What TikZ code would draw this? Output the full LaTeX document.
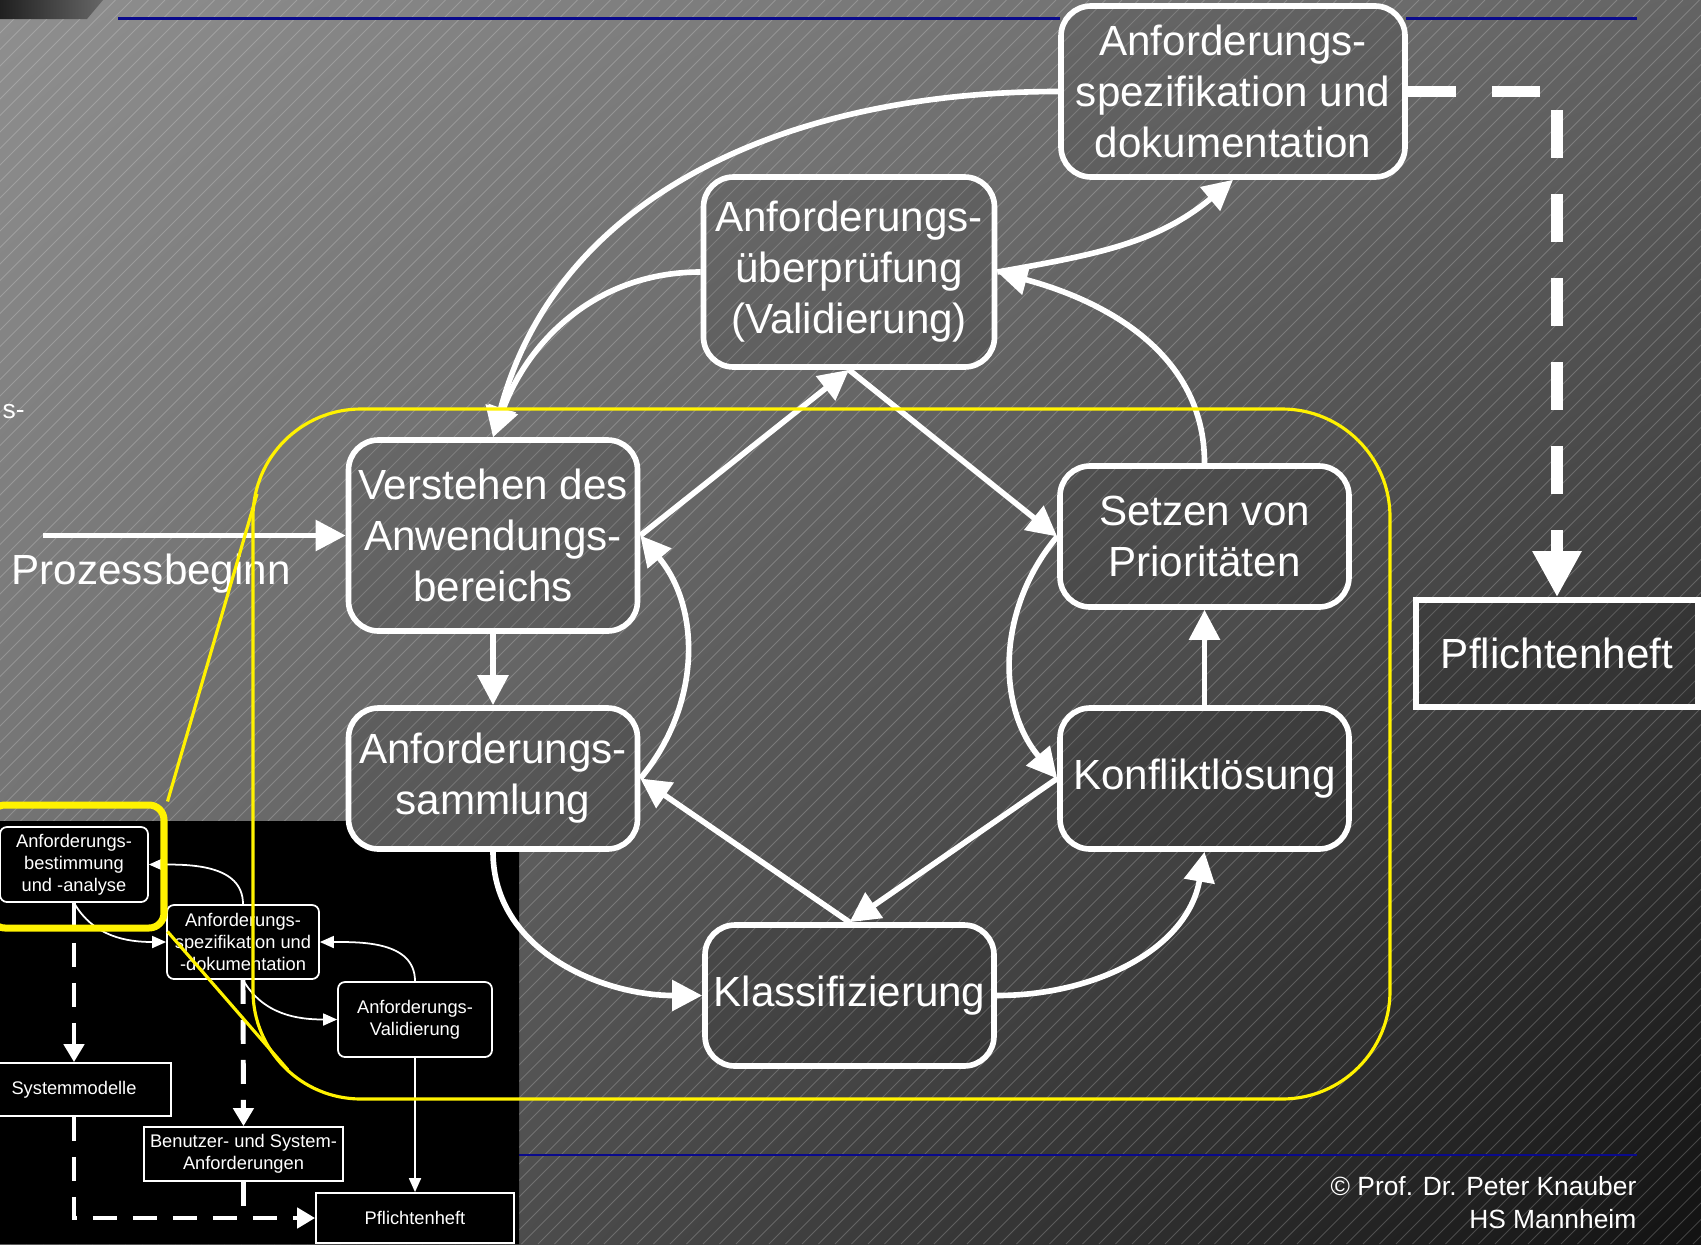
\documentclass[tikz,border=0pt]{standalone}
\usepackage{fontspec}
\setmainfont{Liberation Sans}
\usetikzlibrary{arrows.meta,shadings}

\definecolor{bgul}{gray}{0.56}
\definecolor{bgur}{gray}{0.39}
\definecolor{bgll}{gray}{0.40}
\definecolor{bglr}{gray}{0.07}
\definecolor{slideblue}{RGB}{10,10,140}

\tikzset{
  box/.style={draw=white, line width=1.6pt, rounded corners=0.3cm, fill=black, fill opacity=0.1, text opacity=1,
    text=white, align=center, inner sep=0pt, minimum width=2.89cm, minimum height=1.41cm,
    font=\fontsize{12}{14.5}\selectfont},
  arr/.style={draw=white, line width=1.6pt, -{Triangle[length=0.3cm,width=0.3cm]}},
  bigdash/.style={draw=white, line width=3.4pt, dash pattern=on 0.48cm off 0.36cm, -{Triangle[length=0.46cm,width=0.46cm]}},
  ibox/.style={draw=white, line width=0.5pt, rounded corners=0.07cm, text=white, align=center, inner sep=0pt,
    font=\fontsize{5.2}{6.2}\selectfont},
  iarr/.style={draw=white, line width=0.5pt, -{Triangle[length=0.14cm,width=0.12cm]}},
  idash/.style={draw=white, line width=1.4pt, dash pattern=on 0.24cm off 0.16cm, -{Triangle[length=0.18cm,width=0.2cm]}},
  callout/.style={draw=yellow, line width=0.9pt}
}

\begin{document}
\begin{tikzpicture}
\useasboundingbox (0,0) rectangle (17.01,-12.44);
\shade[upper left=bgul, upper right=bgur, lower left=bgll, lower right=bglr] (0,0) rectangle (17.01,-12.44);
\begin{scope}
\clip (0,0) rectangle (17.01,-12.44);
\foreach \i in {0,...,180}
  \draw[white, opacity=0.2, line width=0.25pt] ({0.165*\i},0) -- ++(-12.44,-12.44);
\end{scope}

\shade[left color=gray!25!black, right color=gray!80!black] (0,0) -- (1.03,0) -- (0.87,-0.19) -- (0,-0.19) -- cycle;
\draw[slideblue, line width=0.8pt] (1.18,-0.185) -- (10.6,-0.185);
\draw[slideblue, line width=0.8pt] (14.06,-0.185) -- (16.37,-0.185);
\draw[slideblue, line width=0.8pt] (1.18,-11.55) -- (16.37,-11.55);

\fill[black] (0,-8.21) -- (3.49,-8.21) arc[start angle=180, end angle=270, radius=0.28] -- (5.19,-8.49) -- (5.19,-12.44) -- (0,-12.44) -- cycle;
\draw (0.74,-8.645) node (ib) [ibox, minimum width=1.48cm, minimum height=0.75cm] {Anforderungs-\\bestimmung\\und -analyse};
\draw (2.43,-9.42) node (isp) [ibox, minimum width=1.52cm, minimum height=0.74cm] {Anforderungs-\\spezifikation und\\-dokumentation};
\draw (4.15,-10.195) node (iva) [ibox, minimum width=1.54cm, minimum height=0.75cm] {Anforderungs-\\Validierung};
\draw (0.74,-10.895) node (ism) [ibox, rounded corners=0, minimum width=1.94cm, minimum height=0.53cm] {Systemmodelle};
\draw (2.435,-11.54) node (ibs) [ibox, rounded corners=0, minimum width=1.99cm, minimum height=0.54cm] {Benutzer- und System-\\Anforderungen};
\draw (4.15,-12.18) node (iph) [ibox, rounded corners=0, minimum width=1.98cm, minimum height=0.5cm] {Pflichtenheft};
\draw[idash] (ib.south) -- (ism.north);
\draw[iarr] (ib.south) to[out=-60,in=180] (isp.west);
\draw[iarr] (isp.north) to[out=90,in=0] (ib.east);
\draw[iarr] (isp.south) to[out=-60,in=180] (iva.west);
\draw[iarr] (iva.north) to[out=90,in=0] (isp.east);
\draw[idash] (isp.south) -- (ibs.north);
\draw[iarr] (iva.south) -- (iph.north);
\draw[idash] (ism.south) |- (iph.west);
\draw[idash, -] (ibs.south) -- (ibs.south |- iph.west);
\draw (0.77,-8.665) node (sel) [draw=yellow, line width=2pt, rounded corners=0.15cm, minimum width=1.74cm, minimum height=1.23cm] {};

\draw (4.93,-5.355) node (vs) [box, minimum height=1.91cm] {Verstehen des\\Anwendungs-\\bereichs};
\draw (4.93,-7.785) node (as) [box] {Anforderungs-\\sammlung};
\draw (8.49,-2.72) node (va) [box, minimum width=2.91cm, minimum height=1.9cm] {Anforderungs-\\überprüfung\\(Validierung)};
\draw (12.33,-0.915) node (sp) [box, minimum width=3.44cm, minimum height=1.71cm] {Anforderungs-\\spezifikation und\\dokumentation};
\draw (12.045,-5.365) node (pr) [box] {Setzen von\\Prioritäten};
\draw (12.045,-7.785) node (ko) [box] {Konfliktlösung};
\draw (8.495,-9.955) node (kl) [box] {Klassifizierung};
\draw (15.57,-6.535) node (ph) [box, rounded corners=0, minimum width=2.82cm, minimum height=1.07cm] {Pflichtenheft};

\draw (0.11,-5.74) node (pb) [anchor=west, inner sep=0pt, text=white, font=\fontsize{12}{14.5}\selectfont] {Prozessbeginn};
\coordinate (st) at (0.43,-5.355);
\draw[arr] (st) -- (vs.west);
\draw[arr] (vs.south) -- (as.north);
\draw[arr] (as.east) to[bend right=40] (vs.east);
\draw[arr] (vs.east) -- (va.south);
\draw[arr] (va.south) -- (pr.west);
\draw[arr] (pr.west) to[bend right=40] (ko.west);
\draw[arr] (ko.west) -- (kl.north);
\draw[arr] (kl.north) -- (as.east);
\draw[arr] (as.south) to[out=-90,in=180] (kl.west);
\draw[arr] (kl.east) to[out=0,in=-100] (ko.south);
\draw[arr] (ko.north) -- (pr.south);
\draw[arr] (pr.north) to[out=90,in=-15] (va.east);
\draw[arr] (va.east) to[out=10,in=-140] (sp.south);
\draw[arr] (sp.west) to[out=180,in=75] (vs.north);
\draw[arr] (va.west) to[out=180,in=70] (vs.north);
\draw[bigdash] (sp.east) -| (ph.north);

\draw (0.02,-4.18) node (cut) [anchor=base west, inner sep=0pt, text=white, font=\fontsize{7.5}{9.4}\selectfont] {s-};
\draw (16.37,-11.95) node (cp1) [anchor=base east, inner sep=0pt, text=white, font=\fontsize{7.5}{9.4}\selectfont] {© Prof. Dr. Peter Knauber};
\draw (16.37,-12.28) node (cp2) [anchor=base east, inner sep=0pt, text=white, font=\fontsize{7.5}{9.4}\selectfont] {HS Mannheim};

\draw[callout, rounded corners=1.08cm] (2.53,-4.09) rectangle (13.90,-10.99);
\coordinate (c1) at (2.57,-4.94);
\coordinate (c2) at (2.88,-10.70);
\draw[callout] (sel.north east) -- (c1);
\draw[callout] (sel.south east) -- (c2);
\end{tikzpicture}
\end{document}
